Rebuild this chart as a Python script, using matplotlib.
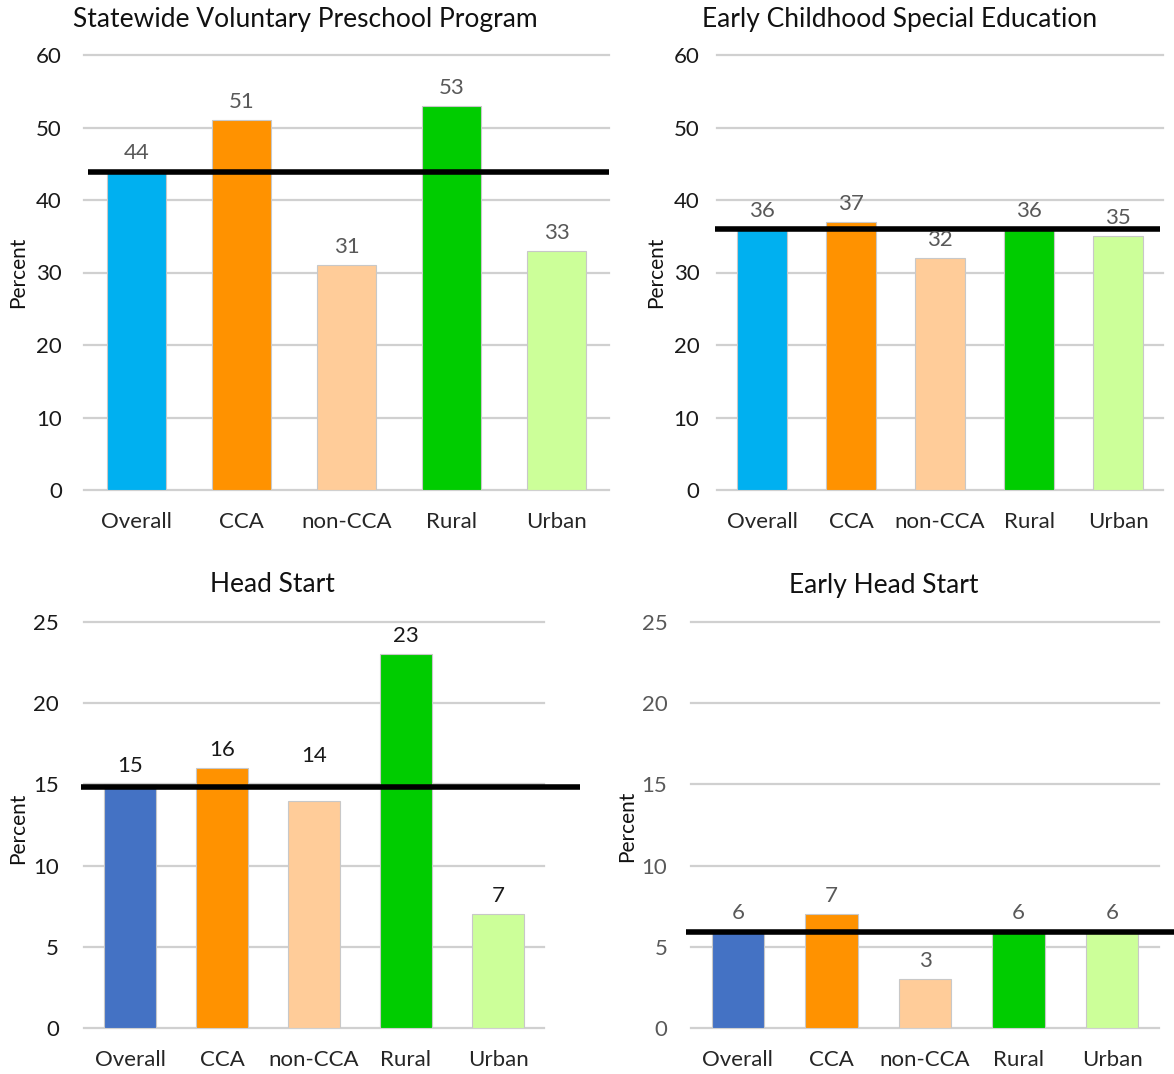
import matplotlib
matplotlib.use('Agg')
import matplotlib.pyplot as plt
import numpy as np

# ---------------- data ----------------
categories = ['Overall', 'CCA', 'non-CCA', 'Rural', 'Urban']
svpp_values = [44, 51, 31, 53, 33]
ecse_values = [36, 37, 32, 36, 35]
hs_values = [15, 16, 14, 23, 7]
ehs_values = [6, 7, 3, 6, 6]
overall_lines = [43.9, 36.0, 14.85, 5.9]
titles = ['Statewide Voluntary Preschool Program', 'Early Childhood Special Education',
          'Head Start', 'Early Head Start']
top_ticks = [0, 10, 20, 30, 40, 50, 60]
bottom_ticks = [0, 5, 10, 15, 20, 25]

# ---------------- style ----------------
plt.rcParams['font.family'] = ['Lato', 'DejaVu Sans']
W, H = 1174, 1074
fig = plt.figure(figsize=(W / 100, H / 100), dpi=100)

top_colors = ['#00B0F0', '#FF9200', '#FFCC99', '#00CC00', '#CCFF99']
bottom_colors = ['#4472C4', '#FF9200', '#FFCC99', '#00CC00', '#CCFF99']
BLACK = '#1a1a1a'
GRAY = '#595959'

def px_axes(x0, x1, ytop, ybot):
    return [x0 / W, 1 - ybot / H, (x1 - x0) / W, (ybot - ytop) / H]

panels = [
    dict(rect=px_axes(84, 609, 55, 490), vals=svpp_values, colors=top_colors, ticks=top_ticks,
         line_x=(-0.46, 4.5), tick_color=BLACK, lab_color=GRAY, ypad=16,
         title_xy=(305, 19), ylab_xy=(18, 272), lab_offsets={}),
    dict(rect=px_axes(717.5, 1162.5, 55, 490), vals=ecse_values, colors=top_colors, ticks=top_ticks,
         line_x=(-0.53, 4.47), tick_color=BLACK, lab_color=GRAY, ypad=13,
         title_xy=(900, 19), ylab_xy=(656, 272), lab_offsets={}),
    dict(rect=px_axes(84, 544, 622, 1028), vals=hs_values, colors=bottom_colors, ticks=bottom_ticks,
         line_x=(-0.53, 4.89), tick_color=BLACK, lab_color=BLACK, ypad=18,
         title_xy=(272, 585), ylab_xy=(18, 828), lab_offsets={2: 32}),
    dict(rect=px_axes(691, 1159, 622, 1028), vals=ehs_values, colors=bottom_colors, ticks=bottom_ticks,
         line_x=(-0.55, 4.67), tick_color=GRAY, lab_color=GRAY, ypad=17,
         title_xy=(884, 585), ylab_xy=(627, 826), lab_offsets={}),
]

FS = 16
for i, (p, title) in enumerate(zip(panels, titles)):
    ax = fig.add_axes(p['rect'])
    x = np.arange(len(categories))
    ax.bar(x, p['vals'], width=0.56, color=p['colors'], edgecolor='#C8C8C8',
           linewidth=0.8, zorder=2)
    ax.set_xlim(-0.5, len(categories) - 0.5)
    ax.set_ylim(p['ticks'][0], p['ticks'][-1])
    ax.set_yticks(p['ticks'])
    ax.set_xticks(x)
    ax.set_xticklabels(categories)
    ax.yaxis.grid(True, color='#D0D0D0', linewidth=1.6, zorder=0)
    ax.set_axisbelow(True)
    for gl in ax.get_ygridlines():
        gl.set_clip_on(False)
    for s in ax.spines.values():
        s.set_visible(False)
    ax.tick_params(axis='y', length=0, pad=p['ypad'], labelsize=FS, labelcolor=p['tick_color'])
    ax.tick_params(axis='x', length=0, pad=16, labelsize=FS, labelcolor='#262626')
    ax.set_facecolor('none')

    ov = overall_lines[i]
    ax.plot(list(p['line_x']), [ov, ov], color='black', linewidth=4.0,
            solid_capstyle='butt', clip_on=False, zorder=4)

    for j, (xi, v) in enumerate(zip(x, p['vals'])):
        off = p['lab_offsets'].get(j, 13)
        ax.annotate(str(v), (xi, v), xytext=(0, off), textcoords='offset points',
                    ha='center', va='center', fontsize=FS, color=p['lab_color'], zorder=5)

    tx, ty = p['title_xy']
    fig.text(tx / W, 1 - ty / H, title, ha='center', va='center', fontsize=19, color='#111111')
    lx, ly = p['ylab_xy']
    fig.text(lx / W, 1 - ly / H, 'Percent', ha='center', va='center', rotation=90,
             fontsize=15, color='#111111')

fig.savefig('out.png', dpi=100, facecolor='white')
